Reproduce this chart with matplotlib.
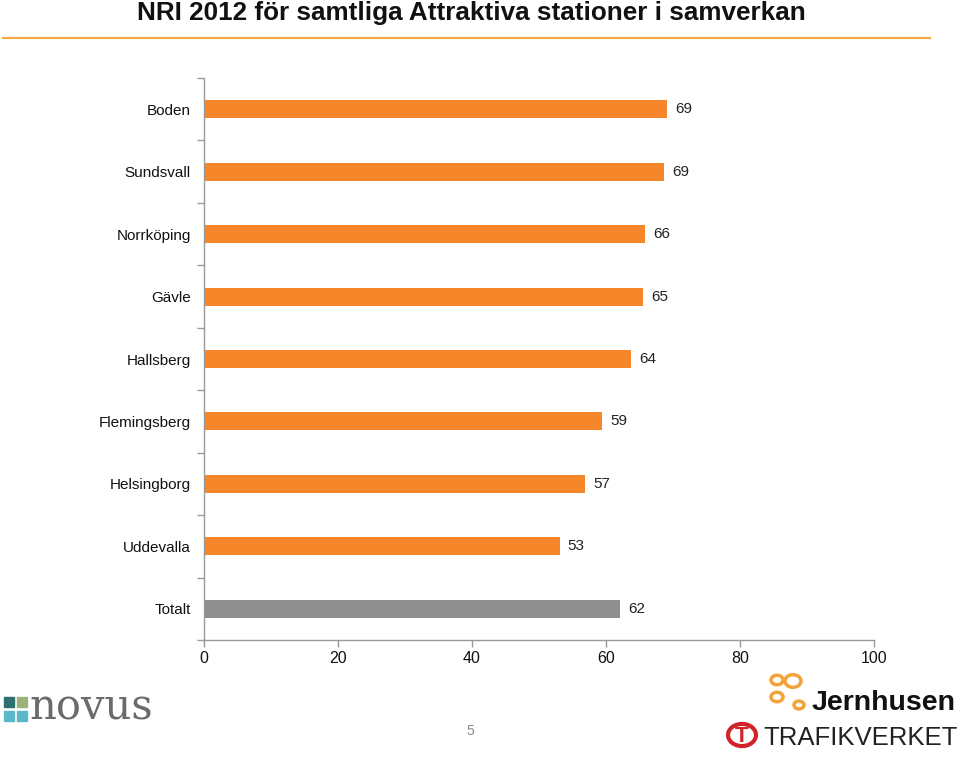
import matplotlib
matplotlib.use("Agg")
import matplotlib.pyplot as plt
from matplotlib.patches import Rectangle, Circle
from matplotlib.lines import Line2D

categories = ["Boden", "Sundsvall", "Norrköping", "Gävle", "Hallsberg",
              "Flemingsberg", "Helsingborg", "Uddevalla", "Totalt"]
values = [69, 69, 66, 65, 64, 59, 57, 53, 62]
bar_lengths = [69.1, 68.7, 65.8, 65.5, 63.7, 59.4, 56.9, 53.1, 62.1]
colors = ["#F5862A"] * 8 + ["#8F8F8F"]
xticks = [0, 20, 40, 60, 80, 100]
title = "NRI 2012 för samtliga Attraktiva stationer i samverkan"

plt.rcParams['font.family'] = ['Liberation Sans', 'DejaVu Sans']

fig = plt.figure(figsize=(9.6, 7.59), dpi=100)
ax = fig.add_axes([204/960, 1-640/759, 670/960, (640-78)/759])

ypos = list(range(len(categories)))
ax.barh(ypos, bar_lengths, height=0.29, color=colors, edgecolor='none')
for y, L, v in zip(ypos, bar_lengths, values):
    ax.text(L + 1.2, y, str(v), va='center', ha='left', fontsize=11, color='#222222')

ax.set_ylim(len(categories) - 0.5, -0.5)
ax.set_xlim(0, 100)
ax.set_yticks(ypos)
ax.set_yticklabels(categories, fontsize=11, color='#111111')
ax.tick_params(axis='y', length=0, pad=9.5)
ax.set_yticks([i - 0.5 for i in range(len(categories) + 1)], minor=True)
ax.tick_params(axis='y', which='minor', length=5, color='#999999', width=1)
ax.set_xticks(xticks)
ax.set_xticklabels([str(t) for t in xticks], fontsize=11.5, color='#111111')
ax.tick_params(axis='x', length=5, color='#999999', width=1, pad=3)
for s in ['top', 'right']:
    ax.spines[s].set_visible(False)
for s in ['left', 'bottom']:
    ax.spines[s].set_color('#999999')
    ax.spines[s].set_linewidth(1)

fig.text(137/960, 1-13/759, title, fontsize=18.8, fontweight='bold',
         ha='left', va='center', color='#111111')
fig.add_artist(Line2D([3/960, 930/960], [1-38/759, 1-38/759], color='#F5A93B', lw=1.5))

fig.text(470/960, 1-731/759, "5", fontsize=10, color='#888888', ha='center', va='center')

# Novus logo approximation
sq = [(4, 697, '#2F6F6F'), (4, 711, '#5BB8C8'), (17, 697, '#9BB27A'), (17, 711, '#5BB8C8')]
for x, y, c in sq:
    fig.add_artist(Rectangle((x/960, 1-(y+10)/759), 10/960, 10/759, color=c,
                             transform=fig.transFigure))
fig.text(29/960, 1-708/759, "novus", fontsize=30, color='#6b6b6b', family='DejaVu Serif',
         ha='left', va='center')

# Jernhusen logo approximation
for cx, cy, r in [(777, 680, 6), (793, 681, 8), (777, 697, 6), (799, 705, 5)]:
    fig.add_artist(Circle((cx/960, 1-cy/759), r/960, fill=False, ec='#F2A33A', lw=2.5,
                          transform=fig.transFigure))
fig.text(812/960, 1-703/759, "Jernhusen", fontsize=20.5, fontweight='bold', color='#111111',
         ha='left', va='center')
# Trafikverket logo approximation
fig.add_artist(Circle((742/960, 1-735/759), 14/960, fill=False, ec='#D2232A', lw=3,
                      transform=fig.transFigure))
fig.text(742/960, 1-736/759, "T", fontsize=16, fontweight='bold', color='#D2232A',
         ha='center', va='center')
fig.text(763/960, 1-738/759, "TRAFIKVERKET", fontsize=18.5, color='#222222',
         ha='left', va='center')

fig.savefig("out.png", dpi=100)
